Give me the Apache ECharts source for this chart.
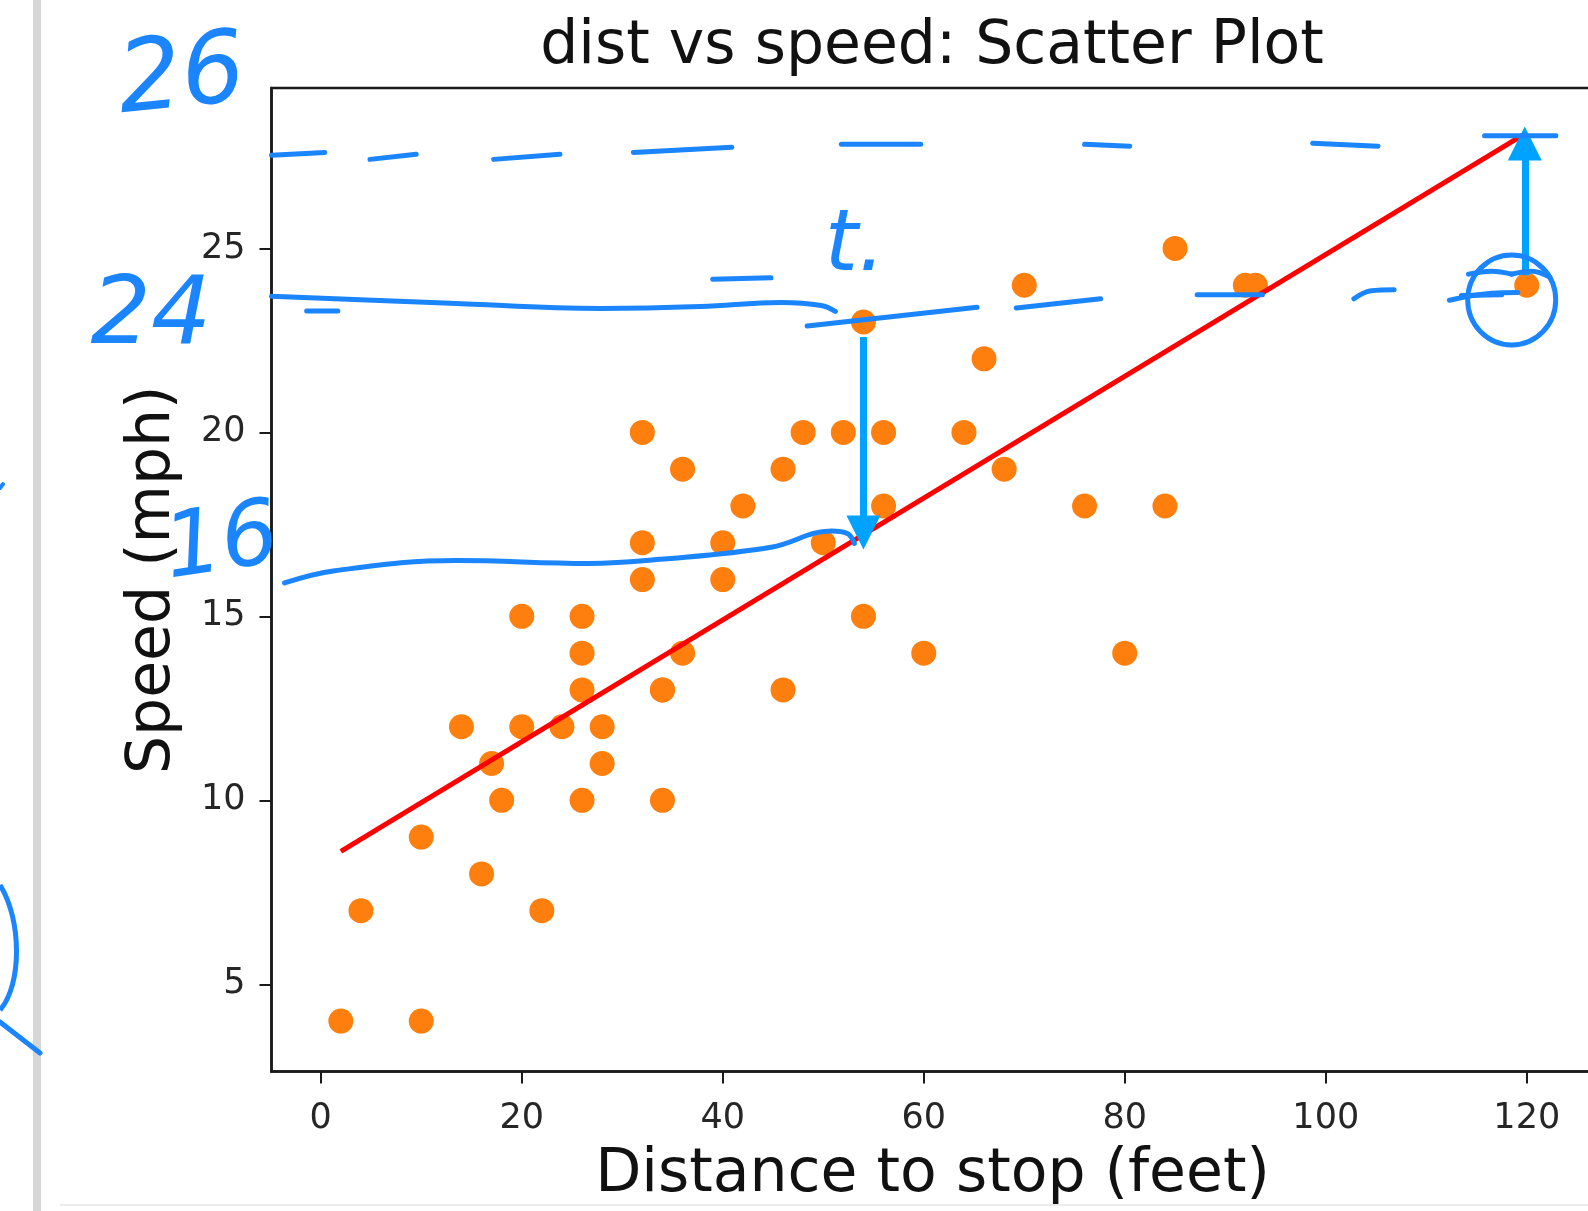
<!DOCTYPE html>
<html>
<head>
<meta charset="utf-8">
<script src="https://cdn.jsdelivr.net/npm/echarts@6/dist/echarts.min.js"></script>
<style>
html, body { margin: 0; padding: 0; background: #fff; }
#chart { width: 1588px; height: 1211px; }
</style>
</head>
<body>
<div id="chart"></div>
<script>
// cars data: stopping distance (feet) and speed (mph)
var distFeet = [2,10,4,22,16,10,18,26,34,17,28,14,20,24,28,26,34,34,46,26,36,60,80,20,26,54,32,40,32,40,50,42,56,76,84,36,46,68,32,48,52,56,64,66,54,70,92,93,120,85];
var speedMph = [4,4,7,7,8,9,10,10,10,11,11,12,12,12,12,13,13,13,13,14,14,14,14,15,15,15,16,16,17,17,17,18,18,18,18,19,19,19,20,20,20,20,20,22,23,24,24,24,24,25];

// fitted line end points
var fitDist = [2, 120];
var fitSpeed = [8.61, 28.15];

var xTicks = [0, 20, 40, 60, 80, 100, 120];
var yTicks = [5, 10, 15, 20, 25];

// hand-drawn pen strokes (data units)
var penDashTop = [
  [[-4.9, 27.53], [0.4, 27.61]],
  [[4.9, 27.42], [9.5, 27.56]],
  [[17.2, 27.42], [23.8, 27.56]],
  [[31.1, 27.61], [40.9, 27.75]],
  [[51.8, 27.83], [59.7, 27.83]],
  [[76.0, 27.83], [80.5, 27.78]],
  [[98.7, 27.86], [105.2, 27.78]],
  [[115.8, 28.06], [122.9, 28.06]]
];
var penLine24 = [
  [[-4.9, 23.70], [12.9, 23.51], [27.9, 23.37], [37.8, 23.42], [45.8, 23.53], [49.8, 23.45], [51.2, 23.29]],
  [[-1.4, 23.30], [1.7, 23.30]],
  [[39.0, 24.16], [44.8, 24.20]],
  [[48.4, 22.89], [65.3, 23.40]],
  [[69.2, 23.38], [77.6, 23.63]],
  [[87.2, 23.74], [93.7, 23.74]],
  [[102.8, 23.63], [104.5, 23.85], [106.8, 23.88]],
  [[112.3, 23.59], [116.5, 23.78], [119.1, 23.80]],
  [[113.5, 23.72], [117.5, 23.74]],
  [[114.2, 24.30], [116.5, 24.38], [118.5, 24.30]],
  [[118.5, 24.30], [120.5, 24.38], [122.3, 24.22]]
];
var penLine16 = [
  [[-3.6, 15.91], [1.4, 16.24], [13.5, 16.52], [26.6, 16.44], [33.7, 16.55], [44.8, 16.88], [50.8, 17.32], [52.4, 17.25], [53.1, 16.98]]
];
var arrowDown = [[54.0, 22.59], [54.0, 17.28]];
var arrowUp = [[119.8, 24.27], [119.8, 27.85]];
var circledPoint = [118.5, 23.6];

var penColor = '#1a85ff';
var arrowColor = '#00a2ff';

function strokeSeries(pts, w) {
  return {
    type: 'line',
    data: pts,
    showSymbol: false,
    symbol: 'none',
    smooth: pts.length > 2 ? 0.4 : false,
    silent: true,
    z: 10,
    lineStyle: { color: penColor, width: w || 5, cap: 'round', join: 'round' },
    animation: false
  };
}

var points = distFeet.map(function (d, i) { return [d, speedMph[i]]; });
var fitLine = fitDist.map(function (d, i) { return [d, fitSpeed[i]]; });

var series = [
  {
    name: 'cars',
    type: 'scatter',
    data: points,
    symbolSize: 25,
    itemStyle: { color: '#ff7f0e', opacity: 1 },
    z: 2
  },
  {
    name: 'fit',
    type: 'line',
    data: fitLine,
    symbol: 'none',
    lineStyle: { color: '#ff0000', width: 5 },
    z: 3
  },
  {
    type: 'scatter',
    data: [],
    silent: true,
    z: 11,
    markLine: {
      silent: true,
      symbol: ['none', 'triangle'],
      symbolSize: [34, 34],
      label: { show: false },
      lineStyle: { color: arrowColor, width: 7, type: 'solid' },
      data: [
        [{ coord: arrowDown[0] }, { coord: arrowDown[1] }],
        [{ coord: arrowUp[0] }, { coord: arrowUp[1] }]
      ],
      animation: false
    },
    markPoint: {
      silent: true,
      symbol: 'circle',
      symbolSize: [88, 90],
      label: { show: false },
      itemStyle: { color: 'rgba(0,0,0,0)', borderColor: penColor, borderWidth: 5 },
      data: [{ coord: circledPoint }],
      animation: false
    }
  }
];
penDashTop.concat(penLine24, penLine16).forEach(function (s) {
  series.push(strokeSeries(s, 5));
});

var handFont = { fontFamily: 'DejaVu Sans', fontStyle: 'italic', fontWeight: 200, fill: penColor };
function hand(text, x, y, size, rot) {
  return {
    type: 'text', x: x, y: y, rotation: rot || 0, z: 20,
    style: Object.assign({ text: text, fontSize: size, align: 'center', verticalAlign: 'middle' }, handFont)
  };
}

var option = {
  animation: false,
  backgroundColor: '#fff',
  grid: {
    left: 271.5, top: 88, width: 1322, height: 983.5,
    show: true, borderColor: '#1a1a1a', borderWidth: 2.5,
    outerBoundsMode: 'none', containLabel: false
  },
  xAxis: {
    type: 'value', min: -4.9, max: 126.64,
    name: 'Distance to stop (feet)', nameLocation: 'middle', nameGap: 74,
    nameTextStyle: { fontFamily: 'DejaVu Sans', fontSize: 60, color: '#111' },
    splitLine: { show: false },
    axisLine: { show: true, onZero: false, lineStyle: { color: '#1a1a1a', width: 2.5 } },
    axisTick: { show: true, customValues: xTicks, length: 12, lineStyle: { color: '#1a1a1a', width: 2 } },
    axisLabel: { customValues: xTicks, fontFamily: 'DejaVu Sans', fontSize: 35, color: '#262626', margin: 30 }
  },
  yAxis: {
    type: 'value', min: 2.63, max: 29.36,
    name: 'Speed (mph)', nameLocation: 'middle', nameGap: 88,
    nameTextStyle: { fontFamily: 'DejaVu Sans', fontSize: 60, color: '#111' },
    splitLine: { show: false },
    axisLine: { show: true, onZero: false, lineStyle: { color: '#1a1a1a', width: 2.5 } },
    axisTick: { show: true, customValues: yTicks, length: 12, lineStyle: { color: '#1a1a1a', width: 2 } },
    axisLabel: { customValues: yTicks, fontFamily: 'DejaVu Sans', fontSize: 35, color: '#262626', margin: 26 }
  },
  graphic: [
    { type: 'rect', shape: { x: 33, y: 0, width: 8, height: 1211 }, style: { fill: '#d6d6d6' }, z: 1 },
    { type: 'line', shape: { x1: 60, y1: 1205, x2: 1588, y2: 1205 }, style: { stroke: '#ececec', lineWidth: 2 }, z: 1 },
    {
      type: 'text', x: 932, y: 47, z: 5,
      style: { text: 'dist vs speed: Scatter Plot', fontFamily: 'DejaVu Sans', fontSize: 60, fill: '#111', align: 'center', verticalAlign: 'middle' }
    },
    hand('26', 182, 80, 100, 0.1),
    hand('24', 151, 318, 95, 0),
    hand('16', 222, 546, 90, 0.15),
    hand('t.', 855, 248, 85, 0),
    { type: 'bezierCurve', z: 20, shape: { x1: 0, y1: 885, cpx1: 22, cpy1: 920, cpx2: 22, cpy2: 985, x2: 0, y2: 1010 }, style: { stroke: penColor, lineWidth: 5, fill: null } },
    { type: 'line', z: 20, shape: { x1: 0, y1: 1022, x2: 40, y2: 1053 }, style: { stroke: penColor, lineWidth: 5, lineCap: 'round' } },
    { type: 'line', z: 20, shape: { x1: 0, y1: 488, x2: 3, y2: 484 }, style: { stroke: penColor, lineWidth: 4, lineCap: 'round' } }
  ],
  series: series
};

var myChart = echarts.init(document.getElementById('chart'));
myChart.setOption(option);
</script>
</body>
</html>
